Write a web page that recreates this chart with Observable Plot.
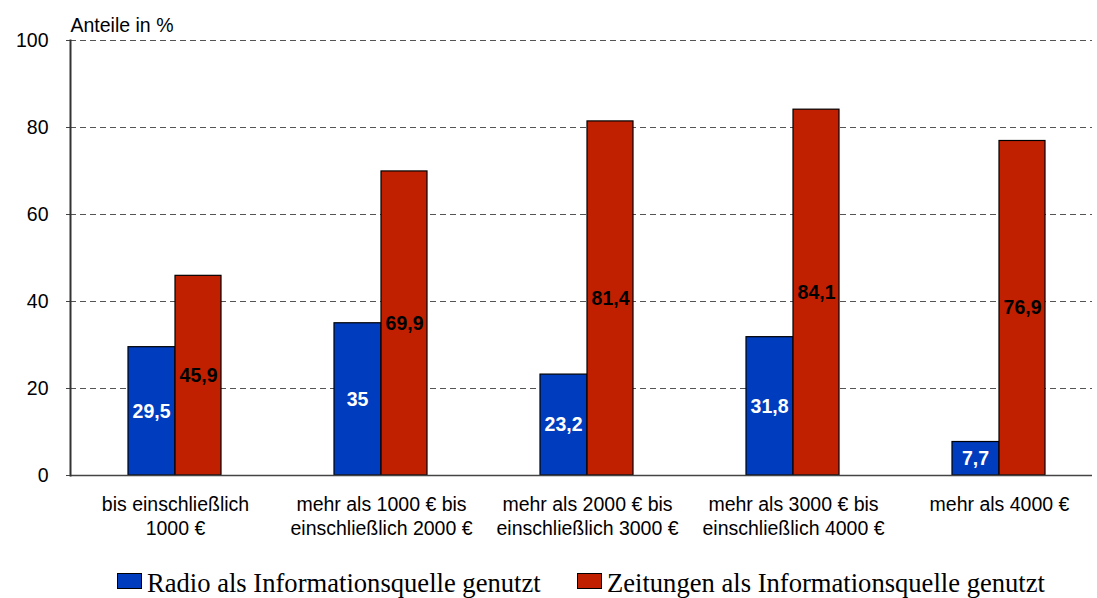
<!DOCTYPE html>
<html>
<head>
<meta charset="utf-8">
<script src="https://cdn.jsdelivr.net/npm/d3@7"></script>
<script src="https://cdn.jsdelivr.net/npm/@observablehq/plot@0.6"></script>
<style>
  body { margin: 0; background: #fff; font-family: "Liberation Sans", Arial, sans-serif; }
  #wrap { position: relative; width: 1097px; height: 598px; }
  #legend { position: absolute; left: 0; top: 0; width: 1097px; height: 598px; font-family: "Liberation Serif", "Times New Roman", serif; font-size: 26.6px; color: #000; pointer-events: none; }
  .sw { position: absolute; top: 573px; width: 25px; height: 16px; border: 1px solid #000; box-sizing: border-box; }
  .lt { position: absolute; top: 568px; line-height: 30px; white-space: nowrap; }
</style>
</head>
<body>
<div id="wrap">
  <div id="chart"></div>
  <div id="legend"></div>
</div>
<script>
const categories = [
  "bis einschließlich\n1000 €",
  "mehr als 1000 € bis\neinschließlich 2000 €",
  "mehr als 2000 € bis\neinschließlich 3000 €",
  "mehr als 3000 € bis\neinschließlich 4000 €",
  "mehr als 4000 €"
];
const radio = [29.5, 35, 23.2, 31.8, 7.7];
const zeitungen = [45.9, 69.9, 81.4, 84.1, 76.9];
const yTicks = [0, 20, 40, 60, 80, 100];
const seriesNames = ["Radio als Informationsquelle genutzt", "Zeitungen als Informationsquelle genutzt"];
const seriesColors = ["#003cbe", "#c02000"];

const fmt = v => String(v).replace(".", ",");
const radioData = categories.map((c, i) => ({cat: c, v: radio[i]}));
const zeitData = categories.map((c, i) => ({cat: c, v: zeitungen[i]}));

const FS = 19.5;
const chart = Plot.plot({
  width: 1097,
  height: 555,
  marginLeft: 70,
  marginRight: 5,
  marginTop: 40,
  marginBottom: 80,
  style: {fontFamily: "'Liberation Sans', Arial, sans-serif", background: "#fff"},
  x: {domain: categories, range: [71, 1103], padding: 0, label: null},
  y: {domain: [0, 100], label: null},
  marks: [
    Plot.gridY(yTicks.filter(d => d > 0), {stroke: "#555", strokeOpacity: 1, strokeDasharray: "6,4", strokeWidth: 1}),
    Plot.axisY({ticks: yTicks, tickSize: 4, tickPadding: 18, fontSize: FS, fill: "#000", stroke: "#444", label: null, tickFormat: d => d}),
    Plot.axisX({tickSize: 0, tickPadding: 18, fontSize: FS, fill: "#000", label: null, lineHeight: 1.23}),
    Plot.barY(radioData, {x: "cat", y: "v", fill: seriesColors[0], stroke: "#000", strokeWidth: 1.2, insetLeft: 56, insetRight: 103}),
    Plot.barY(zeitData, {x: "cat", y: "v", fill: seriesColors[1], stroke: "#000", strokeWidth: 1.2, insetLeft: 103, insetRight: 57}),
    Plot.ruleY([0], {stroke: "#444", strokeWidth: 1.5}),
    Plot.frame({anchor: "left", stroke: "#333", strokeWidth: 2}),
    Plot.text(radioData, {x: "cat", y: d => d.v / 2, text: d => fmt(d.v), dx: -24, fill: "#fff", fontWeight: "bold", fontSize: FS}),
    Plot.text(zeitData, {x: "cat", y: d => d.v / 2, text: d => fmt(d.v), dx: 23, fill: "#000", fontWeight: "bold", fontSize: FS}),
    Plot.text(["Anteile in %"], {frameAnchor: "top-left", dy: -22, textAnchor: "start", fontSize: FS, fill: "#000"})
  ]
});
document.getElementById("chart").appendChild(chart);

const legend = document.getElementById("legend");
const lefts = [117, 577];
seriesNames.forEach((n, i) => {
  const sw = document.createElement("div");
  sw.className = "sw";
  sw.style.left = lefts[i] + "px";
  sw.style.background = seriesColors[i];
  const t = document.createElement("div");
  t.className = "lt";
  t.style.left = (lefts[i] + 30) + "px";
  t.textContent = n;
  legend.appendChild(sw); legend.appendChild(t);
});
</script>
</body>
</html>
